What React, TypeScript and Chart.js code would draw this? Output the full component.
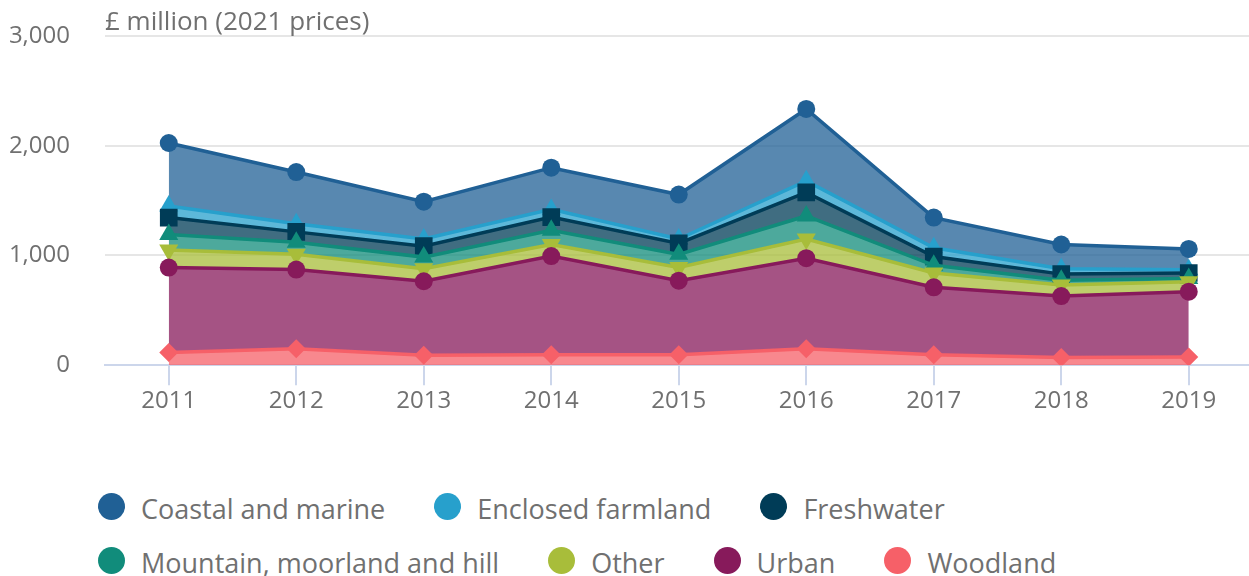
import React, { useEffect, useRef } from "react";
import { Chart, registerables } from "chart.js";

Chart.register(...registerables);

// Categories
const years = ["2011", "2012", "2013", "2014", "2015", "2016", "2017", "2018", "2019"];

// Series values (£ million, 2021 prices), stacked bottom to top
const woodland = [115, 150, 90, 95, 95, 150, 95, 70, 75];
const urban = [775, 722, 675, 900, 675, 825, 615, 560, 595];
const other = [160, 138, 115, 105, 120, 175, 130, 100, 90];
const mountain = [140, 110, 105, 130, 120, 210, 70, 45, 30];
const freshwater = [155, 95, 100, 120, 100, 215, 80, 55, 50];
const enclosed = [105, 75, 65, 70, 40, 105, 80, 50, 30];
const coastal = [575, 470, 340, 380, 405, 655, 275, 220, 190];

// Y tick values
const yTicks = [0, 1000, 2000, 3000];

const unitLabel = "£ million (2021 prices)";

const FONT = "'Open Sans', sans-serif";
const TEXT = "#707070";

type Series = {
  name: string;
  data: number[];
  color: string;
  fillRgb: [number, number, number];
  pointStyle: string;
  radius: number;
  rotation: number;
};

const series: Series[] = [
  { name: "Woodland", data: woodland, color: "#F66068", fillRgb: [246, 96, 104], pointStyle: "rectRot", radius: 9.5, rotation: 0 },
  { name: "Urban", data: urban, color: "#871A5B", fillRgb: [135, 26, 91], pointStyle: "circle", radius: 9, rotation: 0 },
  { name: "Other", data: other, color: "#A8BD3A", fillRgb: [168, 189, 58], pointStyle: "triangle", radius: 11, rotation: 180 },
  { name: "Mountain, moorland and hill", data: mountain, color: "#118C7B", fillRgb: [17, 140, 123], pointStyle: "triangle", radius: 11, rotation: 0 },
  { name: "Freshwater", data: freshwater, color: "#003C57", fillRgb: [0, 60, 87], pointStyle: "rect", radius: 12.5, rotation: 0 },
  { name: "Enclosed farmland", data: enclosed, color: "#27A0CC", fillRgb: [39, 160, 204], pointStyle: "triangle", radius: 11, rotation: 0 },
  { name: "Coastal and marine", data: coastal, color: "#206095", fillRgb: [32, 96, 149], pointStyle: "circle", radius: 9, rotation: 0 },
];

const legendRows: string[][] = [
  ["Coastal and marine", "Enclosed farmland", "Freshwater"],
  ["Mountain, moorland and hill", "Other", "Urban", "Woodland"],
];

function colorOf(name: string): string {
  const s = series.find((x) => x.name === name);
  return s ? s.color : "#000";
}

export default function App() {
  const canvasRef = useRef<HTMLCanvasElement>(null);

  useEffect(() => {
    if (!canvasRef.current) return;
    const chart = new Chart(canvasRef.current, {
      type: "line",
      data: {
        labels: years,
        datasets: series.map((s, i) => ({
          label: s.name,
          data: s.data,
          borderColor: s.color,
          backgroundColor: `rgba(${s.fillRgb[0]},${s.fillRgb[1]},${s.fillRgb[2]},0.75)`,
          borderWidth: 3.5,
          fill: i === 0 ? "origin" : "-1",
          tension: 0,
          pointStyle: s.pointStyle as any,
          pointRadius: s.radius,
          pointRotation: s.rotation,
          pointBackgroundColor: s.color,
          pointBorderColor: s.color,
          pointBorderWidth: 0,
          pointHoverRadius: s.radius,
        })),
      },
      options: {
        animation: false,
        responsive: true,
        maintainAspectRatio: false,
        events: [],
        layout: { padding: { top: 36, left: 0, right: 0, bottom: 0 } },
        plugins: {
          legend: { display: false },
          tooltip: { enabled: false },
          title: { display: false },
        },
        scales: {
          x: {
            offset: true,
            border: { display: true, color: "#ccd6eb", width: 2 },
            grid: {
              drawOnChartArea: false,
              drawTicks: true,
              tickLength: 20,
              color: "#ccd6eb",
              lineWidth: 2,
              offset: false,
            },
            ticks: {
              color: TEXT,
              font: { family: FONT, size: 24 },
              padding: 2,
              maxRotation: 0,
            },
          },
          y: {
            stacked: true,
            min: 0,
            max: 3000,
            afterFit: (scale: any) => {
              scale.width = 105;
            },
            afterBuildTicks: (scale: any) => {
              scale.ticks = yTicks.map((v) => ({ value: v }));
            },
            border: { display: false },
            grid: {
              color: "#e6e6e6",
              lineWidth: 2,
              drawTicks: true,
              tickLength: 35,
              tickColor: "rgba(0,0,0,0)",
            },
            ticks: {
              color: TEXT,
              font: { family: FONT, size: 24 },
              padding: 0,
              callback: (v: any) => Number(v).toLocaleString("en-GB"),
            },
          },
        },
      },
    });
    return () => chart.destroy();
  }, []);

  return (
    <div
      style={{
        position: "absolute",
        left: 0,
        top: 0,
        width: 1249,
        height: 576,
        overflow: "hidden",
        background: "#fff",
        fontFamily: FONT,
      }}
    >
      <div style={{ position: "absolute", left: 0, top: 0, width: 1265, height: 418 }}>
        <canvas ref={canvasRef} />
      </div>
      <div
        style={{
          position: "absolute",
          left: 105,
          top: 2,
          fontSize: 26,
          color: TEXT,
          whiteSpace: "nowrap",
        }}
      >
        {unitLabel}
      </div>
      {legendRows.map((row, ri) => (
        <div
          key={ri}
          style={{
            position: "absolute",
            left: 98,
            top: 479 + ri * 54,
            height: 54,
            display: "flex",
            alignItems: "center",
            gap: 49,
            whiteSpace: "nowrap",
          }}
        >
          {row.map((name) => (
            <div key={name} style={{ display: "flex", alignItems: "center" }}>
              <span
                style={{
                  display: "inline-block",
                  width: 27,
                  height: 27,
                  borderRadius: "50%",
                  background: colorOf(name),
                  marginRight: 16,
                  flex: "none",
                }}
              />
              <span style={{ fontSize: 27, color: TEXT, position: "relative", top: 2 }}>{name}</span>
            </div>
          ))}
        </div>
      ))}
    </div>
  );
}
